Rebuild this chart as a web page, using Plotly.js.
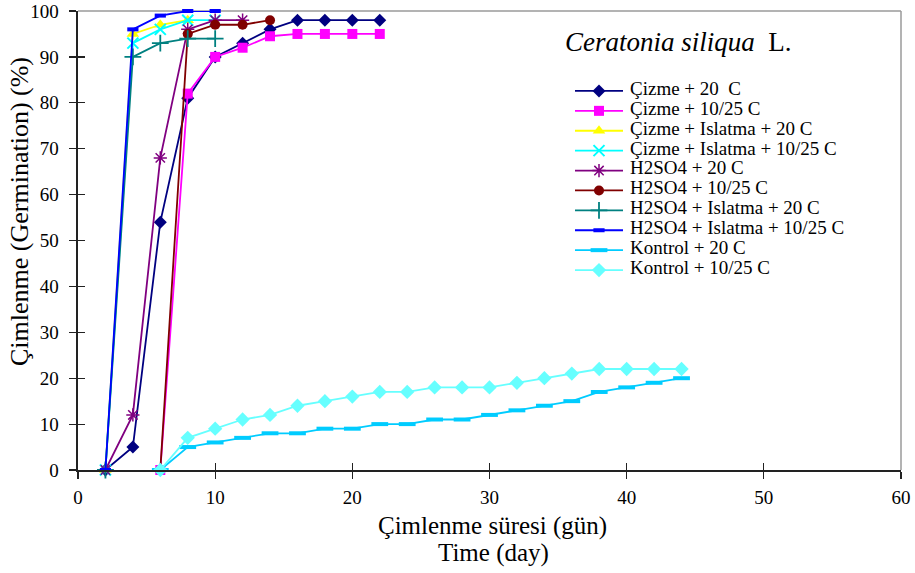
<!DOCTYPE html>
<html>
<head>
<meta charset="utf-8">
<script src="https://cdn.plot.ly/plotly-3.0.1.min.js"></script>
<style>html,body{margin:0;padding:0;background:#fff;}#chart{width:915px;height:573px;}</style>
</head>
<body>
<div id="chart"></div>
<script>
// ---- data ----
const seriesNames = [
  "Çizme + 20  C",
  "Çizme + 10/25 C",
  "Çizme + Islatma + 20 C",
  "Çizme + Islatma + 10/25 C",
  "H2SO4 + 20 C",
  "H2SO4 + 10/25 C",
  "H2SO4 + Islatma + 20 C",
  "H2SO4 + Islatma + 10/25 C",
  "Kontrol + 20 C",
  "Kontrol + 10/25 C"
];
const cizme20Days = [2, 4, 6, 8, 10, 12, 14, 16, 18, 20, 22];
const cizme20Vals = [0, 5, 54, 81, 90, 93, 96, 98, 98, 98, 98];
const cizme1025Days = [6, 8, 10, 12, 14, 16, 18, 20, 22];
const cizme1025Vals = [0, 82, 90, 92, 94.5, 95, 95, 95, 95];
const cizmeIsl20Days = [2, 4, 6, 8];
const cizmeIsl20Vals = [0, 95, 97, 98];
const cizmeIsl1025Days = [2, 4, 6, 8, 10];
const cizmeIsl1025Vals = [0, 93, 96, 98, 98];
const h2so4_20Days = [2, 4, 6, 8, 10, 12];
const h2so4_20Vals = [0, 12, 68, 96, 98, 98];
const h2so4_1025Days = [6, 8, 10, 12, 14];
const h2so4_1025Vals = [0, 95, 97, 97, 98];
const h2so4Isl20Days = [2, 4, 6, 8, 10];
const h2so4Isl20Vals = [0, 90, 93, 94, 94];
const h2so4Isl1025Days = [2, 4, 6, 8, 10];
const h2so4Isl1025Vals = [0, 96, 99, 100, 100];
const kontrol20Days = [6, 8, 10, 12, 14, 16, 18, 20, 22, 24, 26, 28, 30, 32, 34, 36, 38, 40, 42, 44];
const kontrol20Vals = [0, 5, 6, 7, 8, 8, 9, 9, 10, 10, 11, 11, 12, 13, 14, 15, 17, 18, 19, 20];
const kontrol1025Days = [6, 8, 10, 12, 14, 16, 18, 20, 22, 24, 26, 28, 30, 32, 34, 36, 38, 40, 42, 44];
const kontrol1025Vals = [0, 7, 9, 11, 12, 14, 15, 16, 17, 17, 18, 18, 18, 19, 20, 21, 22, 22, 22, 22];
const xTickVals = [0, 10, 20, 30, 40, 50, 60];
const yTickVals = [0, 10, 20, 30, 40, 50, 60, 70, 80, 90, 100];
const chartTitle = "<i>Ceratonia siliqua</i>  L.";
const yTitle = "Çimlenme (Germination) (%)";
const xTitle1 = "Çimlenme süresi (gün)";
const xTitle2 = "Time (day)";

// ---- styles ----
const styles = [
  {color: "#000080", symbol: "diamond", size: 10, lw: 0},
  {color: "#FF00FF", symbol: "square", size: 10, lw: 0},
  {color: "#FFFF00", symbol: "triangle-up", size: 11, lw: 0},
  {color: "#00FFFF", symbol: "x-thin-open", size: 11, lw: 2},
  {color: "#800080", symbol: "asterisk-open", size: 11, lw: 1.5},
  {color: "#800000", symbol: "circle", size: 10, lw: 0},
  {color: "#008080", symbol: "cross-thin-open", size: 12, lw: 1.8},
  {color: "#0000FF", symbol: "line-ew-open", size: 8, lw: 4},
  {color: "#00CCFF", symbol: "line-ew-open", size: 12, lw: 4},
  {color: "#66FFFF", symbol: "diamond", size: 11, lw: 0}
];
const xs = [cizme20Days, cizme1025Days, cizmeIsl20Days, cizmeIsl1025Days, h2so4_20Days, h2so4_1025Days, h2so4Isl20Days, h2so4Isl1025Days, kontrol20Days, kontrol1025Days];
const ys = [cizme20Vals, cizme1025Vals, cizmeIsl20Vals, cizmeIsl1025Vals, h2so4_20Vals, h2so4_1025Vals, h2so4Isl20Vals, h2so4Isl1025Vals, kontrol20Vals, kontrol1025Vals];

const traces = seriesNames.map((n, i) => {
  const s = styles[i];
  return {
    x: xs[i], y: ys[i], name: "", type: "scatter", mode: "lines+markers", cliponaxis: false,
    line: {color: s.color, width: 1.8},
    marker: {color: s.color, symbol: s.symbol, size: s.size, line: {color: s.color, width: s.lw}},
    hoverinfo: "x+y"
  };
});
const font = "Liberation Serif";

// plot area in px
const L = 78, R = 14, T = 11, B = 103;
const W = 915 - L - R, H = 573 - T - B;
const px2x = p => (p - L) / W;
const px2y = p => (573 - B - p) / H;

const annotations = [];
annotations.push({text: chartTitle, xref: "paper", yref: "paper", x: px2x(678), y: px2y(42), xanchor: "center", yanchor: "middle", showarrow: false, font: {family: font, size: 27, color: "#000"}});
annotations.push({text: yTitle, xref: "paper", yref: "paper", x: px2x(19), y: px2y(212), xanchor: "center", yanchor: "middle", textangle: -90, showarrow: false, font: {family: font, size: 26, color: "#000"}});
annotations.push({text: xTitle1, xref: "paper", yref: "paper", x: px2x(492), y: px2y(526), xanchor: "center", yanchor: "middle", showarrow: false, font: {family: font, size: 25, color: "#000"}});
annotations.push({text: xTitle2, xref: "paper", yref: "paper", x: px2x(493), y: px2y(553), xanchor: "center", yanchor: "middle", showarrow: false, font: {family: font, size: 25, color: "#000"}});
const rowStep = 19.9;
seriesNames.forEach((n, i) => {
  annotations.push({text: n, xref: "paper", yref: "paper", x: px2x(628), y: px2y(88.3 + i * rowStep), xanchor: "left", yanchor: "middle", showarrow: false, font: {family: font, size: 19, color: "#000"}});
});

const axisCommon = {showgrid: false, zeroline: false, fixedrange: true};
const layout = {
  width: 915, height: 573,
  margin: {l: L, r: R, t: T, b: B, pad: 0},
  paper_bgcolor: "#fff", plot_bgcolor: "#fff",
  font: {family: font, color: "#000"},
  showlegend: true,
  legend: {x: px2x(570), y: px2y(76), xanchor: "left", yanchor: "top", bgcolor: "rgba(0,0,0,0)", borderwidth: 0, font: {size: 13, family: font}, itemwidth: 48, tracegroupgap: 0},
  xaxis: Object.assign({}, axisCommon, {range: [0, 60], tickvals: xTickVals, ticks: "outside", ticklen: 7, tickwidth: 1.2, tickcolor: "#222", showline: true, linecolor: "#222", linewidth: 2, ticklabelstandoff: 2, tickfont: {family: font, size: 19, color: "#000"}}),
  yaxis: Object.assign({}, axisCommon, {range: [0, 100], tickvals: yTickVals, ticks: "outside", ticklen: 7, tickwidth: 1.2, tickcolor: "#222", showline: true, linecolor: "#222", linewidth: 2.5, tickfont: {family: font, size: 19, color: "#000"}, ticklabelstandoff: 6}),
  xaxis2: Object.assign({}, axisCommon, {overlaying: "x", side: "bottom", range: [0, 60], tickvals: xTickVals, ticks: "inside", ticklen: 7, tickwidth: 1.2, tickcolor: "#222", showticklabels: false, showline: false}),
  yaxis2: Object.assign({}, axisCommon, {overlaying: "y", side: "left", range: [0, 100], tickvals: yTickVals, ticks: "inside", ticklen: 7, tickwidth: 1.2, tickcolor: "#222", showticklabels: false, showline: false}),
  shapes: [
    {type: "line", xref: "paper", yref: "paper", x0: 0, x1: 1, y0: 1, y1: 1, line: {color: "#9a9a9a", width: 1.5}, layer: "below"},
    {type: "line", xref: "paper", yref: "paper", x0: 1, x1: 1, y0: 0, y1: 1, line: {color: "#9a9a9a", width: 1.5}, layer: "below"}
  ],
  annotations: annotations
};
const tickTrace = {x: [], y: [], xaxis: "x2", yaxis: "y2", showlegend: false, hoverinfo: "skip", type: "scatter", mode: "markers"};
Plotly.newPlot("chart", traces.concat([tickTrace]), layout, {staticPlot: true, displayModeBar: false});
</script>
</body>
</html>
